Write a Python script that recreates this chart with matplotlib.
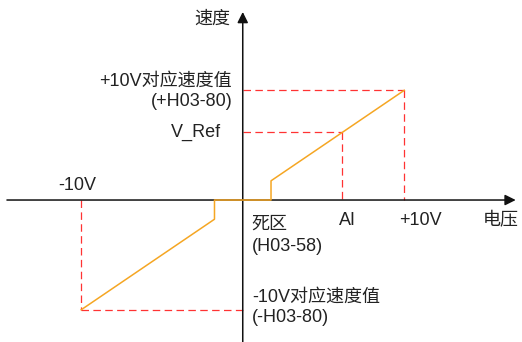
import matplotlib
matplotlib.use('Agg')
import matplotlib.pyplot as plt

plt.rcParams['font.family'] = ['Liberation Sans', 'Noto Sans CJK SC', 'DejaVu Sans']

# Values (voltage in V, speed in % of the +10V speed)
volt_full = 10.0
dead_zone = 1.75
ai_volt = 6.17
v_ref = 61.7
speed_full = 100.0

curve_v = [-volt_full, -dead_zone, -dead_zone, dead_zone, dead_zone, volt_full]
curve_speed = [-speed_full, -dead_zone * 10, 0, 0, dead_zone * 10, speed_full]

fig = plt.figure(figsize=(5.22, 3.42), dpi=100)
ax = fig.add_axes([0, 0, 1, 1])
ax.set_xlim(-15.03, 17.29)
ax.set_ylim(-129.4, 182.3)
ax.axis('off')

txt_color = '#222222'
red = '#FF3333'
orange = '#F5A623'
dash = (0, (6, 3.5))

# axes with arrows
ax.annotate('', xy=(16.9, 0), xytext=(-14.6, 0),
            arrowprops=dict(arrowstyle='-|>', color='#111111', lw=1.1,
                            mutation_scale=16, shrinkA=0, shrinkB=0))
ax.annotate('', xy=(0, 171.4), xytext=(0, -129.4),
            arrowprops=dict(arrowstyle='-|>', color='#111111', lw=1.1,
                            mutation_scale=16, shrinkA=0, shrinkB=0))

# red dashed guides
ax.plot([0, volt_full], [speed_full, speed_full], color=red, lw=0.9, ls=dash)
ax.plot([volt_full, volt_full], [speed_full, 0], color=red, lw=0.9, ls=dash)
ax.plot([0, ai_volt], [v_ref, v_ref], color=red, lw=0.9, ls=dash)
ax.plot([ai_volt, ai_volt], [v_ref, 0], color=red, lw=0.9, ls=dash)
ax.plot([-volt_full, -volt_full], [0, -speed_full], color=red, lw=0.9, ls=dash)
ax.plot([-volt_full, 0], [-speed_full, -speed_full], color=red, lw=0.9, ls=dash)

# speed curve
ax.plot(curve_v, curve_speed, color=orange, lw=1.1, zorder=5)

fs = 13
ax.text(-0.79, 165, '速度', ha='right', va='center', fontsize=fs, color=txt_color)
ax.text(-0.66, 108, '+10V对应速度值', ha='right', va='center', fontsize=fs, color=txt_color)
ax.text(-0.6, 89.6, '(+H03-80)', ha='right', va='center', fontsize=fs, color=txt_color)
ax.text(-1.34, 61.5, 'V_Ref', ha='right', va='center', fontsize=fs, color=txt_color)
ax.text(-10.23, 13.4, '-10V', ha='center', va='center', fontsize=fs, color=txt_color)
ax.text(0.56, -21.6, '死区', ha='left', va='center', fontsize=fs, color=txt_color)
ax.text(0.56, -42.8, '(H03-58)', ha='left', va='center', fontsize=fs, color=txt_color)
ax.text(6.5, -19.1, 'AI', ha='center', va='center', fontsize=fs, color=txt_color)
ax.text(10.98, -19.1, '+10V', ha='center', va='center', fontsize=fs, color=txt_color)
ax.text(14.88, -19.1, '电压', ha='left', va='center', fontsize=fs, color=txt_color)
ax.text(0.56, -88.4, '-10V对应速度值', ha='left', va='center', fontsize=fs, color=txt_color)
ax.text(0.56, -107.3, '(-H03-80)', ha='left', va='center', fontsize=fs, color=txt_color)

fig.savefig('out.png', dpi=100)
